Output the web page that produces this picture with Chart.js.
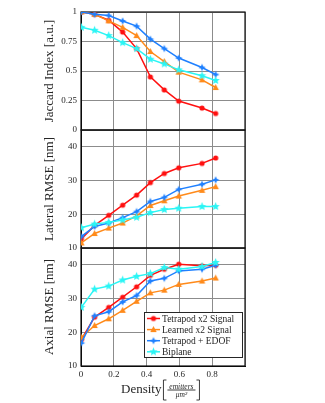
<!DOCTYPE html>
<html>
<head>
<meta charset="utf-8">
<script src="https://cdn.jsdelivr.net/npm/chart.js@4.4.0/dist/chart.umd.min.js"></script>
<style>
  body { margin: 0; background: #fff; }
</style>
</head>
<body>
<canvas id="canvas1" width="325" height="403"></canvas>
<script>
// DATA

const density = [0.002, 0.083, 0.169, 0.254, 0.339, 0.423, 0.508, 0.596, 0.738, 0.821];

const seriesNames = ["Tetrapod x2 Signal", "Learned x2 Signal", "Tetrapod + EDOF", "Biplane"];
const seriesColors = ["#ff1010", "#ff8a1a", "#1f80ff", "#2af5f5"];

const jaccardTetrapod = [1.0, 0.98, 0.93, 0.83, 0.69, 0.45, 0.34, 0.245, 0.186, 0.14];
const jaccardLearned  = [1.0, 0.98, 0.925, 0.87, 0.80, 0.665, 0.58, 0.49, 0.425, 0.36];
const jaccardEdof     = [1.0, 0.98, 0.97, 0.924, 0.88, 0.77, 0.69, 0.61, 0.53, 0.47];
const jaccardBiplane  = [0.87, 0.845, 0.80, 0.74, 0.69, 0.60, 0.56, 0.51, 0.46, 0.42];

const lateralTetrapod = [12.7, 16.7, 19.7, 22.7, 25.7, 29.4, 32.1, 33.8, 35.1, 36.7];
const lateralLearned  = [11.5, 14.3, 15.9, 17.4, 19.5, 22.6, 24.0, 25.4, 27.1, 28.2];
const lateralEdof     = [13.4, 16.4, 17.4, 19.0, 20.8, 23.8, 25.0, 27.4, 28.9, 30.2];
const lateralBiplane  = [16.0, 17.1, 17.6, 18.3, 19.1, 20.5, 21.4, 21.8, 22.3, 22.3];

const axialTetrapod = [17.8, 24.5, 27.4, 30.4, 33.5, 36.9, 38.7, 40.2, 39.7, 39.9];
const axialLearned  = [18.5, 22.0, 24.0, 26.5, 29.2, 31.7, 32.5, 34.2, 35.2, 36.1];
const axialEdof     = [16.8, 24.9, 26.1, 29.0, 30.9, 35.2, 36.0, 38.2, 38.7, 39.9];
const axialBiplane  = [27.4, 32.8, 33.7, 35.5, 36.6, 37.4, 39.2, 38.7, 39.5, 40.7];

const serif = "'Liberation Serif', 'Times New Roman', serif";
const textColor = "#262626";

// MARKERS (small canvases used as pointStyle)

function starImage(color, points, r, inner) {
  let c = document.createElement("canvas");
  let s = Math.ceil(r * 2 + 2);
  c.width = s; c.height = s;
  let g = c.getContext("2d");
  g.beginPath();
  for (let i = 0; i < points * 2; i++) {
    let rad = (i % 2) ? r * inner : r;
    let a = -Math.PI / 2 + i * Math.PI / points;
    g.lineTo(s / 2 + rad * Math.cos(a), s / 2 + rad * Math.sin(a));
  }
  g.closePath();
  g.fillStyle = color;
  g.fill();
  return c;
}

function circleImage(color, r) {
  let c = document.createElement("canvas");
  let s = Math.ceil(r * 2 + 2);
  c.width = s; c.height = s;
  let g = c.getContext("2d");
  g.beginPath();
  g.arc(s / 2, s / 2, r, 0, Math.PI * 2);
  g.fillStyle = color;
  g.fill();
  return c;
}

function triangleImage(color, r) {
  let c = document.createElement("canvas");
  let s = Math.ceil(r * 2 + 2);
  c.width = s; c.height = s;
  let g = c.getContext("2d");
  g.beginPath();
  g.moveTo(s / 2, s / 2 - r);
  g.lineTo(s / 2 + r * 0.95, s / 2 + r * 0.7);
  g.lineTo(s / 2 - r * 0.95, s / 2 + r * 0.7);
  g.closePath();
  g.fillStyle = color;
  g.fill();
  return c;
}

const markers = [
  circleImage(seriesColors[0], 2.6),
  triangleImage(seriesColors[1], 3.4),
  starImage(seriesColors[2], 4, 3.8, 0.42),
  starImage(seriesColors[3], 5, 4.4, 0.45)
];

// DATASETS

function toPoints(values) {
  let data = [];
  for (let i = 0; i < values.length; i++) {
    data.push({ x: density[i], y: values[i] });
  }
  return data;
}

function makeSet(values, k, axis) {
  return {
    label: seriesNames[k],
    data: toPoints(values),
    yAxisID: axis,
    borderColor: seriesColors[k],
    backgroundColor: seriesColors[k],
    borderWidth: 1.5,
    pointStyle: markers[k],
    pointRadius: 3,
    fill: false,
    tension: 0,
    order: 4 - k
  };
}

const datasets = [
  makeSet(jaccardTetrapod, 0, "y1"), makeSet(jaccardLearned, 1, "y1"),
  makeSet(jaccardEdof, 2, "y1"), makeSet(jaccardBiplane, 3, "y1"),
  makeSet(lateralTetrapod, 0, "y2"), makeSet(lateralLearned, 1, "y2"),
  makeSet(lateralEdof, 2, "y2"), makeSet(lateralBiplane, 3, "y2"),
  makeSet(axialTetrapod, 0, "y3"), makeSet(axialLearned, 1, "y3"),
  makeSet(axialEdof, 2, "y3"), makeSet(axialBiplane, 3, "y3")
];

// AXES

function yAxis(min, max, step, title) {
  return {
    type: "linear",
    position: "left",
    stack: "panels",
    stackWeight: 1,
    min: min,
    max: max,
    afterFit: function (s) { s.width = 39; },
    ticks: {
      stepSize: step,
      color: textColor,
      padding: 4,
      font: { family: serif, size: 9 },
      callback: function (v) {
        let r = Math.round(v / step) * step;
        if (Math.abs(r - v) > 1e-9) return "";
        return String(Math.round(v * 100) / 100);
      }
    },
    grid: { color: "#8c8c8c", drawTicks: false },
    border: { display: true, color: "#000" },
    title: {
      display: true,
      text: title,
      color: textColor,
      font: { family: serif, size: 13 },
      padding: { top: 0, bottom: 2 }
    }
  };
}

// PLUGINS

const framePlugin = {
  id: "frame",
  beforeDatasetsDraw(chart) {
    let ctx = chart.ctx, a = chart.chartArea;
    ctx.save();
    ctx.strokeStyle = "#111";
    ctx.lineWidth = 1.2;
    ["y1", "y2", "y3"].forEach(id => {
      let s = chart.scales[id];
      ctx.strokeRect(a.left, s.top, a.right - a.left, s.bottom - s.top);
    });
    ctx.restore();
  }
};

const legendPlugin = {
  id: "boxLegend",
  afterDraw(chart) {
    let ctx = chart.ctx, a = chart.chartArea;
    let w = 98, h = 45;
    let x0 = Math.round(a.right - 3 - w), y0 = Math.round(a.bottom - 9 - h);
    ctx.save();
    ctx.fillStyle = "#fff";
    ctx.fillRect(x0, y0, w, h);
    ctx.strokeStyle = "#262626";
    ctx.lineWidth = 1;
    ctx.strokeRect(x0 + 0.5, y0 + 0.5, w, h);
    ctx.font = "9.5px " + serif;
    ctx.textBaseline = "middle";
    ctx.textAlign = "left";
    for (let i = 0; i < seriesNames.length; i++) {
      let cy = y0 + 6.5 + i * 11.1;
      ctx.strokeStyle = seriesColors[i];
      ctx.lineWidth = 1.5;
      ctx.beginPath();
      ctx.moveTo(x0 + 3, cy);
      ctx.lineTo(x0 + 16, cy);
      ctx.stroke();
      let m = markers[i];
      ctx.drawImage(m, x0 + 9.5 - m.width / 2, cy - m.height / 2);
      ctx.fillStyle = textColor;
      ctx.fillText(seriesNames[i], x0 + 18, cy + 0.5);
    }
    ctx.restore();
  }
};

const xTitlePlugin = {
  id: "xTitle",
  afterDraw(chart) {
    let ctx = chart.ctx, xs = chart.scales.x;
    let cx = (xs.left + xs.right) / 2 - 2;
    let cy = xs.bottom - 13;
    ctx.save();
    ctx.fillStyle = textColor;
    ctx.strokeStyle = textColor;
    ctx.textBaseline = "middle";
    ctx.textAlign = "left";
    ctx.font = "13px " + serif;
    let wd = ctx.measureText("Density").width;
    let sx = cx - 40;
    ctx.fillText("Density", sx, cy);
    let bx = sx + wd + 2;
    let bx2 = bx + 36;
    ctx.lineWidth = 0.9;
    ctx.beginPath();
    ctx.moveTo(bx + 3, cy - 10); ctx.lineTo(bx, cy - 10); ctx.lineTo(bx, cy + 10); ctx.lineTo(bx + 3, cy + 10);
    ctx.moveTo(bx2 - 3, cy - 10); ctx.lineTo(bx2, cy - 10); ctx.lineTo(bx2, cy + 10); ctx.lineTo(bx2 - 3, cy + 10);
    ctx.stroke();
    let fx = (bx + bx2) / 2;
    ctx.textAlign = "center";
    ctx.font = "italic 7.5px " + serif;
    ctx.textBaseline = "alphabetic";
    ctx.fillText("emitters", fx, cy - 1.5);
    ctx.beginPath();
    ctx.moveTo(fx - 14, cy); ctx.lineTo(fx + 14, cy);
    ctx.stroke();
    ctx.textBaseline = "top";
    ctx.fillText("\u03bcm\u00b2", fx, cy + 1);
    ctx.restore();
  }
};

// CHART

let canvas1 = document.getElementById("canvas1");

let myChart = new Chart(canvas1, {
  type: "line",
  data: { datasets: datasets },
  options: {
    responsive: false,
    animation: false,
    layout: { padding: { left: 42, right: 80, top: 12, bottom: 0 } },
    plugins: {
      legend: { display: false },
      tooltip: { enabled: false }
    },
    scales: {
      x: {
        type: "linear",
        min: 0,
        max: 1,
        afterFit: function (s) { s.height = 37; },
        ticks: {
          stepSize: 0.2,
          color: textColor,
          padding: 3,
          maxRotation: 0,
          font: { family: serif, size: 9 },
          callback: function (v) { return v > 0.9 ? "" : String(Math.round(v * 10) / 10); }
        },
        grid: { color: "#8c8c8c", drawTicks: false },
        border: { display: true, color: "#000" }
      },
      y3: yAxis(10, 45, 10, "Axial RMSE [nm]"),
      y2: yAxis(10, 45, 10, "Lateral RMSE [nm]"),
      y1: yAxis(0, 1, 0.25, "Jaccard Index [a.u.]")
    }
  },
  plugins: [framePlugin, legendPlugin, xTitlePlugin]
});
</script>
</body>
</html>
